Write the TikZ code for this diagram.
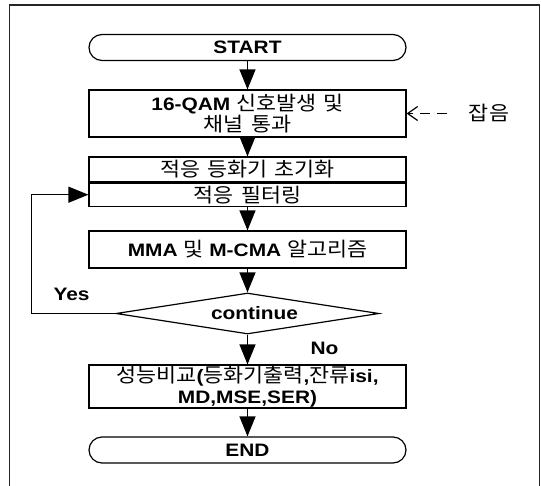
\documentclass[tikz,border=0pt]{standalone}
\usepackage{fontspec}
\setmainfont{Liberation Sans}[FakeStretch=1.16]
\newfontfamily\kr{Noto Sans CJK KR}[FakeStretch=1.1,Scale=1.1,WordSpace=1.5]
\usetikzlibrary{positioning,shapes.geometric,arrows.meta}
\newcommand{\fsz}{\fontsize{18}{21}\selectfont}
\newcommand{\hg}[1]{{\kr\mdseries #1}}

\begin{document}
\begin{tikzpicture}[x=1pt,y=1pt,
	every node/.style={font=\fsz},
	proc/.style={draw,line width=1.2pt,minimum width=317pt,inner sep=0pt,align=center},
	term/.style={proc,rounded corners=13pt,minimum height=26pt},
	flow/.style={line width=1.2pt,-{Triangle[width=16pt,length=20pt]}}]
		\useasboundingbox (0,0) rectangle (541,-485);
		\clip (0,0) rectangle (541,-485);
		% frame
		\draw[line width=1.5pt,black!85] (9.3,-5) rectangle (539.5,-495);
		% boxes
		\node[term] (start) at (247.5,-47.5) {\bfseries START};
		\node[proc,minimum height=47pt] (gen) at (247.5,-113.5)
			{\bfseries 16-QAM \hg{신호발생 및}\\\hg{채널 통과}};
		\node[proc,minimum height=25pt] (init) at (247.5,-169.5) {\hg{적응 등화기 초기화}};
		\node[proc,minimum height=23pt,below=0pt of init] (filt) {\hg{적응 필터링}};
		\node[proc,minimum height=37pt] (algo) at (247.5,-249.5)
			{\bfseries MMA \hg{및} M-CMA \hg{알고리즘}};
		\node[draw,diamond,line width=1.2pt,aspect=6,inner sep=0pt,
			minimum width=263pt,minimum height=41pt] (cont) at (247.5,-313.5) {};
		\node (conttext) at (254.5,-313.5) {\bfseries continue};
		\node[proc,minimum height=43pt] (comp) at (247.5,-386.5)
			{\hg{성능비교}\textbf{(}\hg{등화기출력}\textbf{,}\hg{잔류}\textbf{isi,}\\
			\textbf{MD,MSE,SER)}};
		\node[term] (end) at (247.5,-450) {\bfseries END};
		% noise
		\node (noise) at (489,-113) {\hg{잡음}};
		\coordinate (nz) at (447,-113.5);
		\draw[line width=1.2pt,dash pattern=on 10pt off 7pt,
			-{Straight Barb[length=10pt,width=14pt]}] (nz) -- (gen.east);
		% arrows
		\draw[flow] (start) -- (gen);
		\draw[flow] (gen) -- (init);
		\draw[flow] (filt) -- (algo);
		\draw[flow] (algo) -- (cont);
		\draw[flow] (cont) -- (comp);
		\draw[flow] (comp) -- (end);
		% loop
		\coordinate (lp) at (31.7,-313.5);
		\draw[flow] (cont.west) -- (lp) |- (filt.west);
		\node (yes) at (71.5,-294) {\bfseries Yes};
		\node (no) at (324.5,-348) {\bfseries No};
\end{tikzpicture}
\end{document}
